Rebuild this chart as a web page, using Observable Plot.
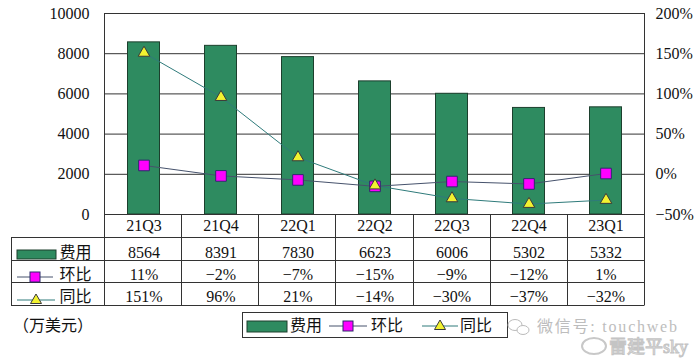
<!DOCTYPE html>
<html><head><meta charset="utf-8">
<script src="https://cdn.jsdelivr.net/npm/d3@7"></script>
<script src="https://cdn.jsdelivr.net/npm/@observablehq/plot@0.6"></script>
<style>html,body{margin:0;padding:0;background:#fff;}</style>
</head><body><div id="chart"></div>
<script>
// ---- data ----
const categories = ["21Q3","21Q4","22Q1","22Q2","22Q3","22Q4","23Q1"];
const expense = [8564, 8391, 7830, 6623, 6006, 5302, 5332];
const qoq = [11, -2, -7, -15, -9, -12, 1];
const yoy = [151, 96, 21, -14, -30, -37, -32];
const seriesNames = ["费用", "环比", "同比"];
const unitLabel = "（万美元）";
const leftTicks = [0, 2000, 4000, 6000, 8000, 10000];
const rightTicks = [-50, 0, 50, 100, 150, 200];
const watermark1 = "微信号: touchweb";
const watermark2 = "雷建平sky";

// ---- styling ----
const FONT = "'Liberation Serif','Noto Sans CJK SC',serif";
const C = {
  bar: "#2e8b60", barStroke: "#1c3f2d",
  qoqLine: "#46526c", yoyLine: "#2f7b7b",
  sq: "#ff00ff", sqStroke: "#2b2b6b",
  tri: "#f2f230", triStroke: "#3a3a3a",
  grid: "#333"
};

// percentage axis maps onto the left axis: -50% -> 0, 200% -> 10000
const toY = p => (p + 50) * 40;
const fromY = v => v / 40 - 50;
const fmtPct = p => (p < 0 ? "−" : "") + Math.abs(p) + "%";

const rows = categories.map((c, i) => ({cat: c, expense: expense[i], qoq: qoq[i], yoy: yoy[i]}));

// table geometry (offsets below the x axis line)
const rowLines = [23, 46, 68, 91];
const rowText = [11.5, 38.5, 60.5, 82.5];

function tableLayer(index, scales, values, dims) {
  const g = d3.create("svg:g").attr("fill", "none").attr("text-anchor", "start")
    .attr("font-family", FONT);
  const x0 = dims.marginLeft, x1 = dims.width - dims.marginRight;
  const yb = dims.height - dims.marginBottom;
  const n = categories.length, step = (x1 - x0) / n;
  const tableLeft = 11;
  // vertical lines
  for (let i = 0; i <= n; i++) {
    const x = Math.round(x0 + i * step) + 0.5;
    g.append("line").attr("x1", x).attr("x2", x)
      .attr("y1", i === 0 || i === n ? dims.marginTop : yb).attr("y2", yb + rowLines[3])
      .attr("stroke", C.grid);
  }
  g.append("line").attr("x1", tableLeft + 0.5).attr("x2", tableLeft + 0.5)
    .attr("y1", yb + rowLines[0]).attr("y2", yb + rowLines[3]).attr("stroke", C.grid);
  for (const r of rowLines) {
    g.append("line").attr("x1", tableLeft).attr("x2", x1 + 0.5)
      .attr("y1", yb + r + 0.5).attr("y2", yb + r + 0.5).attr("stroke", C.grid);
  }
  // series samples in label column
  g.append("rect").attr("x", 17).attr("y", yb + 36).attr("width", 39).attr("height", 9)
    .attr("fill", C.bar).attr("stroke", C.barStroke);
  const sample = (gx, gy, kind, len) => {
    g.append("line").attr("x1", gx).attr("x2", gx + len).attr("y1", gy).attr("y2", gy)
      .attr("stroke", kind === "sq" ? C.qoqLine : C.yoyLine);
    const cx = gx + len / 2;
    if (kind === "sq") {
      g.append("rect").attr("x", cx - 5).attr("y", gy - 5).attr("width", 10).attr("height", 10)
        .attr("fill", C.sq).attr("stroke", C.sqStroke);
    } else {
      g.append("path").attr("d", `M${cx},${gy - 6}L${cx + 5.5},${gy + 3.5}L${cx - 5.5},${gy + 3.5}Z`)
        .attr("fill", C.tri).attr("stroke", C.triStroke);
    }
  };
  sample(17, yb + 63, "sq", 36);
  sample(17, yb + 86, "tri", 38);
  // legend box
  const ly = 312;
  g.append("rect").attr("x", 242.5).attr("y", ly + 0.5).attr("width", 265).attr("height", 25)
    .attr("fill", "#fff").attr("stroke", C.grid);
  g.append("rect").attr("x", 247).attr("y", ly + 9).attr("width", 40).attr("height", 11)
    .attr("fill", C.bar).attr("stroke", C.barStroke);
  sample(329, ly + 14, "sq", 38);
  sample(422, ly + 14, "tri", 36);
  const lt = [[290, seriesNames[0]], [371, seriesNames[1]], [460, seriesNames[2]]];
  for (const [x, t] of lt) {
    g.append("text").attr("x", x).attr("y", ly + 13).attr("dy", "0.35em")
      .attr("fill", "#111").attr("font-size", 16).text(t);
  }
  // unit label
  g.append("text").attr("x", 13).attr("y", 325).attr("dy", "0.35em").attr("fill", "#111")
    .attr("font-size", 16).text(unitLabel);
  // watermarks
  g.append("ellipse").attr("cx", 515).attr("cy", 325).attr("rx", 7).attr("ry", 5.5).attr("stroke", "#bbb");
  g.append("ellipse").attr("cx", 523).attr("cy", 330).attr("rx", 6).attr("ry", 4.5).attr("stroke", "#bbb").attr("fill", "#fff");
  g.append("text").attr("x", 537).attr("y", 326).attr("dy", "0.35em").attr("fill", "#bdbdbd")
    .attr("font-size", 16).attr("textLength", 140).text(watermark1);
  g.append("ellipse").attr("cx", 594).attr("cy", 346).attr("rx", 12).attr("ry", 8).attr("stroke", "#c8c8c8").attr("stroke-width", 2);
  g.append("text").attr("x", 609).attr("y", 347).attr("dy", "0.35em").attr("fill", "#f4f4f4")
    .attr("stroke", "#c4c4c4").attr("stroke-width", 1).attr("font-size", 18).text(watermark2);
  return g.node();
}

const labelMark = (i) => Plot.text([seriesNames[i]], {
  frameAnchor: "left", y: 0, dy: rowText[i + 1], dx: -13, textAnchor: "end", text: d => d, fill: "#111"
});

const chart = Plot.plot({
  width: 700, height: 361,
  marginLeft: 104, marginRight: 56, marginTop: 13, marginBottom: 147,
  style: {fontFamily: FONT, fontSize: "16px", color: "#111", background: "#fff", overflow: "visible"},
  x: {domain: categories, padding: 0, axis: null},
  y: {domain: [0, 10000], axis: null},
  marks: [
    Plot.ruleY(leftTicks, {stroke: C.grid, strokeWidth: 1}),
    Plot.barY(rows, {x: "cat", y: "expense", fill: C.bar, stroke: C.barStroke, strokeWidth: 1, insetLeft: 22.5, insetRight: 22.5}),
    Plot.ruleY([0], {stroke: C.grid}),
    Plot.line(rows, {x: "cat", y: d => toY(d.yoy), stroke: C.yoyLine, strokeWidth: 1}),
    Plot.line(rows, {x: "cat", y: d => toY(d.qoq), stroke: C.qoqLine, strokeWidth: 1}),
    Plot.dot(rows, {x: "cat", y: d => toY(d.qoq), symbol: "square", r: 6, fill: C.sq, stroke: C.sqStroke, strokeWidth: 1}),
    Plot.dot(rows, {x: "cat", y: d => toY(d.yoy), symbol: "triangle", r: 4.3, fill: C.tri, stroke: C.triStroke, strokeWidth: 1}),
    Plot.axisY({anchor: "left", ticks: leftTicks, tickFormat: "d", tickSize: 0, tickPadding: 15, label: null, fontSize: 16}),
    Plot.axisY({anchor: "right", ticks: rightTicks.map(toY), tickFormat: v => fmtPct(fromY(v)), tickSize: 0, tickPadding: 11, label: null, fontSize: 16}),
    tableLayer,
    Plot.text(rows, {x: "cat", y: 0, dy: rowText[0], text: "cat", fill: "#111"}),
    Plot.text(rows, {x: "cat", y: 0, dy: rowText[1], text: d => String(d.expense), fill: "#111"}),
    Plot.text(rows, {x: "cat", y: 0, dy: rowText[2], text: d => fmtPct(d.qoq), fill: "#111"}),
    Plot.text(rows, {x: "cat", y: 0, dy: rowText[3], text: d => fmtPct(d.yoy), fill: "#111"}),
    labelMark(0), labelMark(1), labelMark(2)
  ]
});
document.getElementById("chart").appendChild(chart);
</script>
</body></html>
